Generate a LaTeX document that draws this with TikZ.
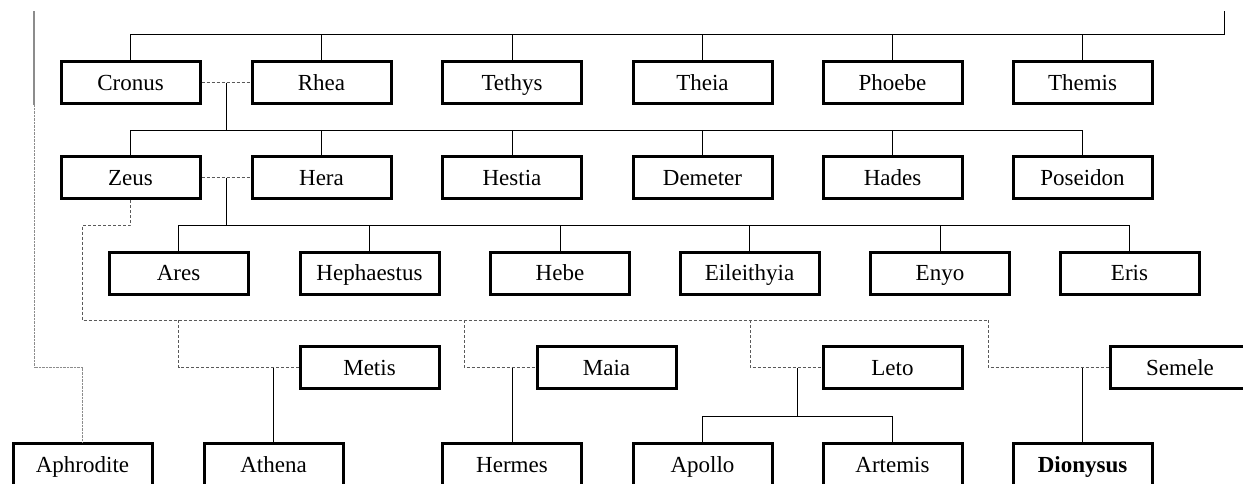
\documentclass[tikz,border=0pt]{standalone}
\usepackage{fontspec}
\setmainfont{Liberation Serif}
\usetikzlibrary{calc}
\tikzset{
  god/.style={draw, line width=3pt, minimum width=139pt, minimum height=42pt, inner sep=0pt,
    text height=15.2pt, text depth=0pt, font=\fontsize{23}{27}\selectfont},
  link/.style={line width=1pt, draw=black},
  wed/.style={line width=1pt, draw=black!65, dash pattern=on 3pt off 2pt},
  faintsolid/.style={line width=1.2pt, draw=black!45},
  faint/.style={line width=1pt, draw=black!45, dash pattern=on 0.8pt off 0.6pt},
}
\begin{document}
\begin{tikzpicture}[x=1pt,y=-1pt]
\useasboundingbox (0,0) rectangle (1243,483);
% row 1
\node[god] (cronus) at (130.5,82.5) {Cronus};
\node[god] (rhea) at (321.5,82.5) {Rhea};
\node[god] (tethys) at (512,82.5) {Tethys};
\node[god] (theia) at (702.5,82.5) {Theia};
\node[god] (phoebe) at (892.5,82.5) {Phoebe};
\node[god] (themis) at (1082.5,82.5) {Themis};
% row 2
\node[god] (zeus) at (130.5,177.5) {Zeus};
\node[god] (hera) at (321.5,177.5) {Hera};
\node[god] (hestia) at (512,177.5) {Hestia};
\node[god] (demeter) at (702.5,177.5) {Demeter};
\node[god] (hades) at (892.5,177.5) {Hades};
\node[god] (poseidon) at (1082.5,177.5) {Poseidon};
% row 3
\node[god] (ares) at (178.5,273) {Ares};
\node[god] (hephaestus) at (369.5,273) {Hephaestus};
\node[god] (hebe) at (560,273) {Hebe};
\node[god] (eileithyia) at (749.5,273) {Eileithyia};
\node[god] (enyo) at (940,273) {Enyo};
\node[god] (eris) at (1129.5,273) {Eris};
% row 4
\node[god] (metis) at (369.5,367.5) {Metis};
\node[god] (maia) at (606.5,367.5) {Maia};
\node[god] (leto) at (892.5,367.5) {Leto};
\node[god] (semele) at (1180,367.5) {Semele};
% row 5
\node[god] (aphrodite) at (82.5,464.5) {Aphrodite};
\node[god] (athena) at (273.5,464.5) {Athena};
\node[god] (hermes) at (512,464.5) {Hermes};
\node[god] (apollo) at (702.5,464.5) {Apollo};
\node[god] (artemis) at (892.5,464.5) {Artemis};
\node[god] (dionysus) at (1082.5,464.5) {\textbf{Dionysus}};

% helper coordinates
\coordinate (topL) at (34,11);
\coordinate (topR) at (1224,11);
\coordinate (lmid) at (34,105);
\coordinate (bar1) at (0,34);
\coordinate (bar2) at (0,130);
\coordinate (bar3) at (0,225);
\coordinate (bar4) at (0,320);
\coordinate (bar5) at (0,416);
\coordinate (zx) at (82,0);
\coordinate (dM) at (464,320);
\coordinate (dL) at (750,320);
\coordinate (dE) at (988,320);

% row 1 children bar
\draw[link] (cronus.north) -- (cronus.north |- bar1) -- (topR |- bar1) -- (topR);
\foreach \n in {rhea,tethys,theia,phoebe,themis}
  \draw[link] (\n.north) -- (\n.north |- bar1);

% Cronus - Rhea
\draw[wed] (cronus.east) -- (rhea.west);
\coordinate (cr) at ($(cronus.east)!0.5!(rhea.west)$);
\draw[link] (cr) -- (cr |- bar2);
\draw[link] (zeus.north |- bar2) -- (poseidon.north |- bar2);
\foreach \n in {zeus,hera,hestia,demeter,hades,poseidon}
  \draw[link] (\n.north) -- (\n.north |- bar2);

% Zeus - Hera
\draw[wed] (zeus.east) -- (hera.west);
\coordinate (zh) at ($(zeus.east)!0.5!(hera.west)$);
\draw[link] (zh) -- (zh |- bar3);
\draw[link] (ares.north |- bar3) -- (eris.north |- bar3);
\foreach \n in {ares,hephaestus,hebe,eileithyia,enyo,eris}
  \draw[link] (\n.north) -- (\n.north |- bar3);

% Zeus's other unions
\draw[wed] (zeus.south) -- (zeus.south |- bar3) -- (zx |- bar3) -- (zx |- bar4) -- (dE);
\draw[wed] (ares.north |- bar4) |- (metis.west);
\draw[wed] (dM) |- (maia.west);
\draw[wed] (dL) |- (leto.west);
\draw[wed] (dE) |- (semele.west);

% children of those unions
\draw[link] (athena.north) -- (athena.north |- metis.west);
\draw[link] (hermes.north) -- (hermes.north |- maia.west);
\coordinate (lj) at ($(apollo.north)!0.5!(artemis.north)$);
\draw[link] (lj |- leto.west) -- (lj |- bar5);
\draw[link] (apollo.north) -- (apollo.north |- bar5) -- (artemis.north |- bar5) -- (artemis.north);
\draw[link] (dionysus.north) -- (dionysus.north |- semele.west);

% Aphrodite line
\draw[faintsolid] (topL) -- (lmid);
\draw[faint] (lmid) -- (lmid |- metis.west) -- (aphrodite.north |- metis.west) -- (aphrodite.north);
\end{tikzpicture}
\end{document}
